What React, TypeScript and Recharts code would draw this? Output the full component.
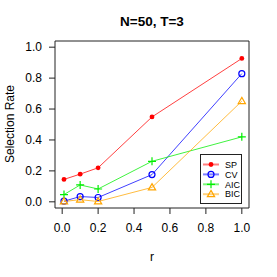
import React from 'react';
import { LineChart, Line, XAxis, YAxis } from 'recharts';

const rValues = [0.01, 0.1, 0.2, 0.5, 1.0];
const spRates = [0.145, 0.179, 0.22, 0.549, 0.927];
const cvRates = [0.004, 0.034, 0.028, 0.176, 0.829];
const aicRates = [0.047, 0.109, 0.083, 0.262, 0.42];
const bicRates = [0.002, 0.014, 0.002, 0.093, 0.651];

const xTicks = [0, 0.2, 0.4, 0.6, 0.8, 1.0];
const yTicks = [0, 0.2, 0.4, 0.6, 0.8, 1.0];

const data = rValues.map((r, i) => ({
  r,
  SP: spRates[i],
  CV: cvRates[i],
  AIC: aicRates[i],
  BIC: bicRates[i],
}));

type Shape = 'dot' | 'circle' | 'plus' | 'triangle';

const series: { key: string; color: string; shape: Shape }[] = [
  { key: 'SP', color: '#FF0000', shape: 'dot' },
  { key: 'CV', color: '#0000FF', shape: 'circle' },
  { key: 'AIC', color: '#00EE00', shape: 'plus' },
  { key: 'BIC', color: '#FFA500', shape: 'triangle' },
];

// R-style plotting symbols
function Symbol({ cx, cy, shape, color }: { cx: number; cy: number; shape: Shape; color: string }) {
  if (cx == null || cy == null) return null;
  switch (shape) {
    case 'dot':
      return <circle cx={cx} cy={cy} r={2.4} fill={color} stroke="none" />;
    case 'circle':
      return <circle cx={cx} cy={cy} r={3} fill="none" stroke={color} strokeWidth={1.2} />;
    case 'plus':
      return (
        <path
          d={`M${cx - 4},${cy}H${cx + 4}M${cx},${cy - 4}V${cy + 4}`}
          stroke={color}
          strokeWidth={1.2}
          fill="none"
        />
      );
    case 'triangle':
      return (
        <path
          d={`M${cx},${cy - 3.8}L${cx + 3.6},${cy + 2.4}L${cx - 3.6},${cy + 2.4}Z`}
          stroke={color}
          strokeWidth={1.2}
          fill="none"
        />
      );
  }
}

const FONT = '"Liberation Sans", Arial, Helvetica, sans-serif';

export default function App() {
  const tickStyle = { fontSize: 12, fill: '#000', fontFamily: FONT };
  return (
    <div style={{ position: 'absolute', left: 0, top: 0, width: 277, height: 277, background: '#fff' }}>
      <LineChart width={277} height={277} data={data} margin={{ top: 40, right: 27, bottom: 39, left: 15 }}>
        <XAxis
          dataKey="r"
          type="number"
          domain={[-0.04, 1.04]}
          ticks={xTicks}
          tickFormatter={(v: number) => v.toFixed(1)}
          height={30}
          tick={tickStyle}
          tickSize={6}
          tickMargin={9}
          stroke="#222"
          allowDataOverflow
        />
        <XAxis
          xAxisId="top"
          orientation="top"
          type="number"
          domain={[-0.04, 1.04]}
          height={1}
          tick={false}
          tickLine={false}
          stroke="#222"
        />
        <YAxis
          type="number"
          domain={[-0.04, 1.04]}
          ticks={yTicks}
          tickFormatter={(v: number) => v.toFixed(1)}
          width={40}
          tick={tickStyle}
          tickSize={6}
          tickMargin={7}
          stroke="#222"
          allowDataOverflow
        />
        <YAxis
          yAxisId="right"
          orientation="right"
          type="number"
          domain={[-0.04, 1.04]}
          width={1}
          tick={false}
          tickLine={false}
          stroke="#222"
        />
        {series.map((s) => (
          <Line
            key={s.key}
            dataKey={s.key}
            stroke={s.color}
            strokeOpacity={0.75}
            strokeWidth={1}
            isAnimationActive={false}
            dot={(p: any) => <Symbol key={`${s.key}-${p.index}`} cx={p.cx} cy={p.cy} shape={s.shape} color={s.color} />}
            activeDot={false}
          />
        ))}
      </LineChart>
      <svg
        width={277}
        height={277}
        style={{ position: 'absolute', left: 0, top: 0, pointerEvents: 'none' }}
        fontFamily={FONT}
      >
        <text x={152} y={26} textAnchor="middle" fontSize={13.5} fontWeight="bold" fill="#000">
          N=50, T=3
        </text>
        <text x={152} y={261} textAnchor="middle" fontSize={12} fill="#000">
          r
        </text>
        <text x={13.5} y={124} textAnchor="middle" fontSize={12} fill="#000" transform="rotate(-90 13.5 124)">
          Selection Rate
        </text>
        <rect x={200.5} y={154.5} width={41} height={49} fill="#fff" stroke="#222" strokeWidth={1} />
        {series.map((s, i) => {
          const y = 164.5 + i * 9.9;
          return (
            <g key={s.key}>
              <line x1={203} x2={219} y1={y} y2={y} stroke={s.color} strokeOpacity={0.5} strokeWidth={2} />
              <Symbol cx={211} cy={y} shape={s.shape} color={s.color} />
              <text x={225} y={y + 3.2} fontSize={9} fill="#000">
                {s.key}
              </text>
            </g>
          );
        })}
      </svg>
    </div>
  );
}
